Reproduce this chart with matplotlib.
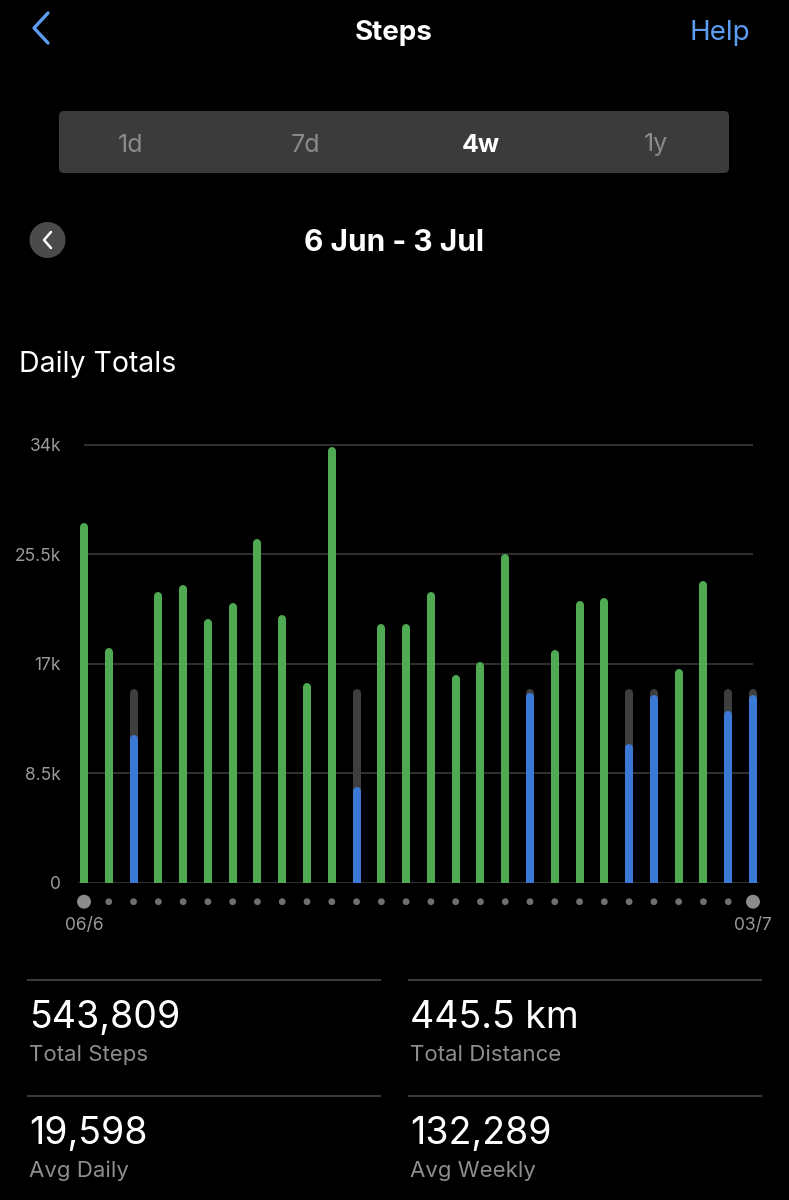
import numpy as np
import matplotlib
matplotlib.use("Agg")
import matplotlib.pyplot as plt
from matplotlib.patches import FancyBboxPatch, Circle

plt.rcParams['font.family'] = ['Inter', 'DejaVu Sans']

# data (daily steps, 6 Jun - 3 Jul)
steps = [27900, 18200, 11500, 22600, 23100, 20500, 21700, 26700, 20800, 15500,
         33800, 7400, 20100, 20050, 22600, 16100, 17100, 25500, 14700, 18100,
         21900, 22100, 10800, 14600, 16600, 23400, 13300, 14600]
goal = 15000
yticks = [0, 8500, 17000, 25500, 34000]
ytick_labels = ["0", "8.5k", "17k", "25.5k", "34k"]
first_label, last_label = "06/6", "03/7"
periods = ["1d", "7d", "4w", "1y"]
stat_values = ["543,809", "445.5 km", "19,598", "132,289"]
stat_names = ["Total Steps", "Total Distance", "Avg Daily", "Avg Weekly"]

GREEN = "#4faa53"
BLUE = "#3a79d6"
GOALGRAY = "#3e3e3e"
GRID = "#383838"
LABEL = "#9a9a9a"

W, H = 789, 1200
fig = plt.figure(figsize=(W / 100, H / 100), dpi=100, facecolor="black")

# ---- page layer in pixel coords ----
bg = fig.add_axes([0, 0, 1, 1])
bg.set_xlim(0, W)
bg.set_ylim(H, 0)
bg.axis("off")
bg.set_facecolor("black")

# header
bg.plot([48, 34, 48], [13, 28, 43], color="#5d9cf0", lw=2.4, solid_capstyle="round",
        solid_joinstyle="round")
bg.text(394, 33, "Steps", color="white", fontsize=20, fontweight="bold", ha="center", va="center")
bg.text(720, 33, "Help", color="#5d9cf0", fontsize=20, ha="center", va="center")

# segmented control
bg.add_patch(FancyBboxPatch((59, 111), 670, 62, boxstyle="round,pad=0,rounding_size=5",
                            facecolor="#3b3b3b", edgecolor="none"))
for i, p in enumerate(periods):
    sel = p == "4w"
    bg.text(131 + i * 175, 145, p, ha="center", va="center", fontsize=18,
            color="white" if sel else "#8a8a8a", fontweight="bold" if sel else "normal")

# date row
bg.add_patch(Circle((47.5, 240), 18, facecolor="#4a4a4a", edgecolor="none"))
bg.plot([51, 44, 51], [232, 240, 248], color="white", lw=1.8, solid_capstyle="round",
        solid_joinstyle="round")
bg.text(394, 243, "6 Jun - 3 Jul", color="white", fontsize=21.5, fontweight="bold",
        ha="center", va="center")

bg.text(19, 364, "Daily Totals", color="white", fontsize=20.5, ha="left", va="center")

# stats
for col, x0 in enumerate([28, 409]):
    for row, y0 in enumerate([980, 1096]):
        bg.plot([x0, x0 + 352], [y0, y0], color="#3a3a3a", lw=1.5)
        k = row * 2 + col
        bg.text(x0 + 1, y0 + 38, stat_values[k], color="white", fontsize=27,
                ha="left", va="center")
        bg.text(x0 + 1, y0 + 75, stat_names[k], color="#8e8e8e", fontsize=16,
                ha="left", va="center")

# ---- chart ----
n = len(steps)
x = np.arange(n)
unit_px = (753 - 84) / (n - 1)
xpad = 0.25
ymax = 35000
px_per_step = (882.7 - 444.7) / 34000
ax_left = 84 - xpad * unit_px
ax_w = (n - 1 + 2 * xpad) * unit_px
ax_h = ymax * px_per_step
ax = fig.add_axes([ax_left / W, (H - 882.7) / H, ax_w / W, ax_h / H])
ax.set_facecolor("none")
ax.set_xlim(-xpad, n - 1 + xpad)
ax.set_ylim(0, ymax)
for s in ax.spines.values():
    s.set_visible(False)

ax.hlines(yticks[1:], 0, n - 1, color=GRID, lw=1.2, zorder=1)
ax.axhline(0, color=GRID, lw=1.2, zorder=1)

bar_px = 8
lw = bar_px * 72 / 100
r = (bar_px / 2) / px_per_step
steps_arr = np.array(steps)
met = steps_arr >= goal
for xi, v, ok in zip(x, steps_arr, met):
    if not ok:
        ax.plot([xi, xi], [0, goal - r], color=GOALGRAY, lw=lw, solid_capstyle="round", zorder=2)
    ax.plot([xi, xi], [0, v - r], color=GREEN if ok else BLUE, lw=lw,
            solid_capstyle="round", zorder=3)

ax.set_yticks(yticks, ytick_labels)
ax.tick_params(axis="y", length=0, pad=12, labelcolor=LABEL, labelsize=12.5)
ax.set_xticks([])

# day dots under the axis
tr = ax.get_xaxis_transform()
dot_y = -19 / ax_h
sizes = np.full(n, 24.0)
sizes[[0, -1]] = 100
colors = ["#8c8c8c" if i in (0, n - 1) else "#6f6f6f" for i in range(n)]
ax.scatter(x, np.full(n, dot_y), s=sizes, c=colors, transform=tr, clip_on=False,
           linewidths=0)
ax.text(0, -43 / ax_h, first_label, transform=tr, ha="center", va="center",
        color=LABEL, fontsize=12.5)
ax.text(n - 1, -43 / ax_h, last_label, transform=tr, ha="center", va="center",
        color=LABEL, fontsize=12.5)

fig.savefig("out.png", dpi=100, facecolor="black")
